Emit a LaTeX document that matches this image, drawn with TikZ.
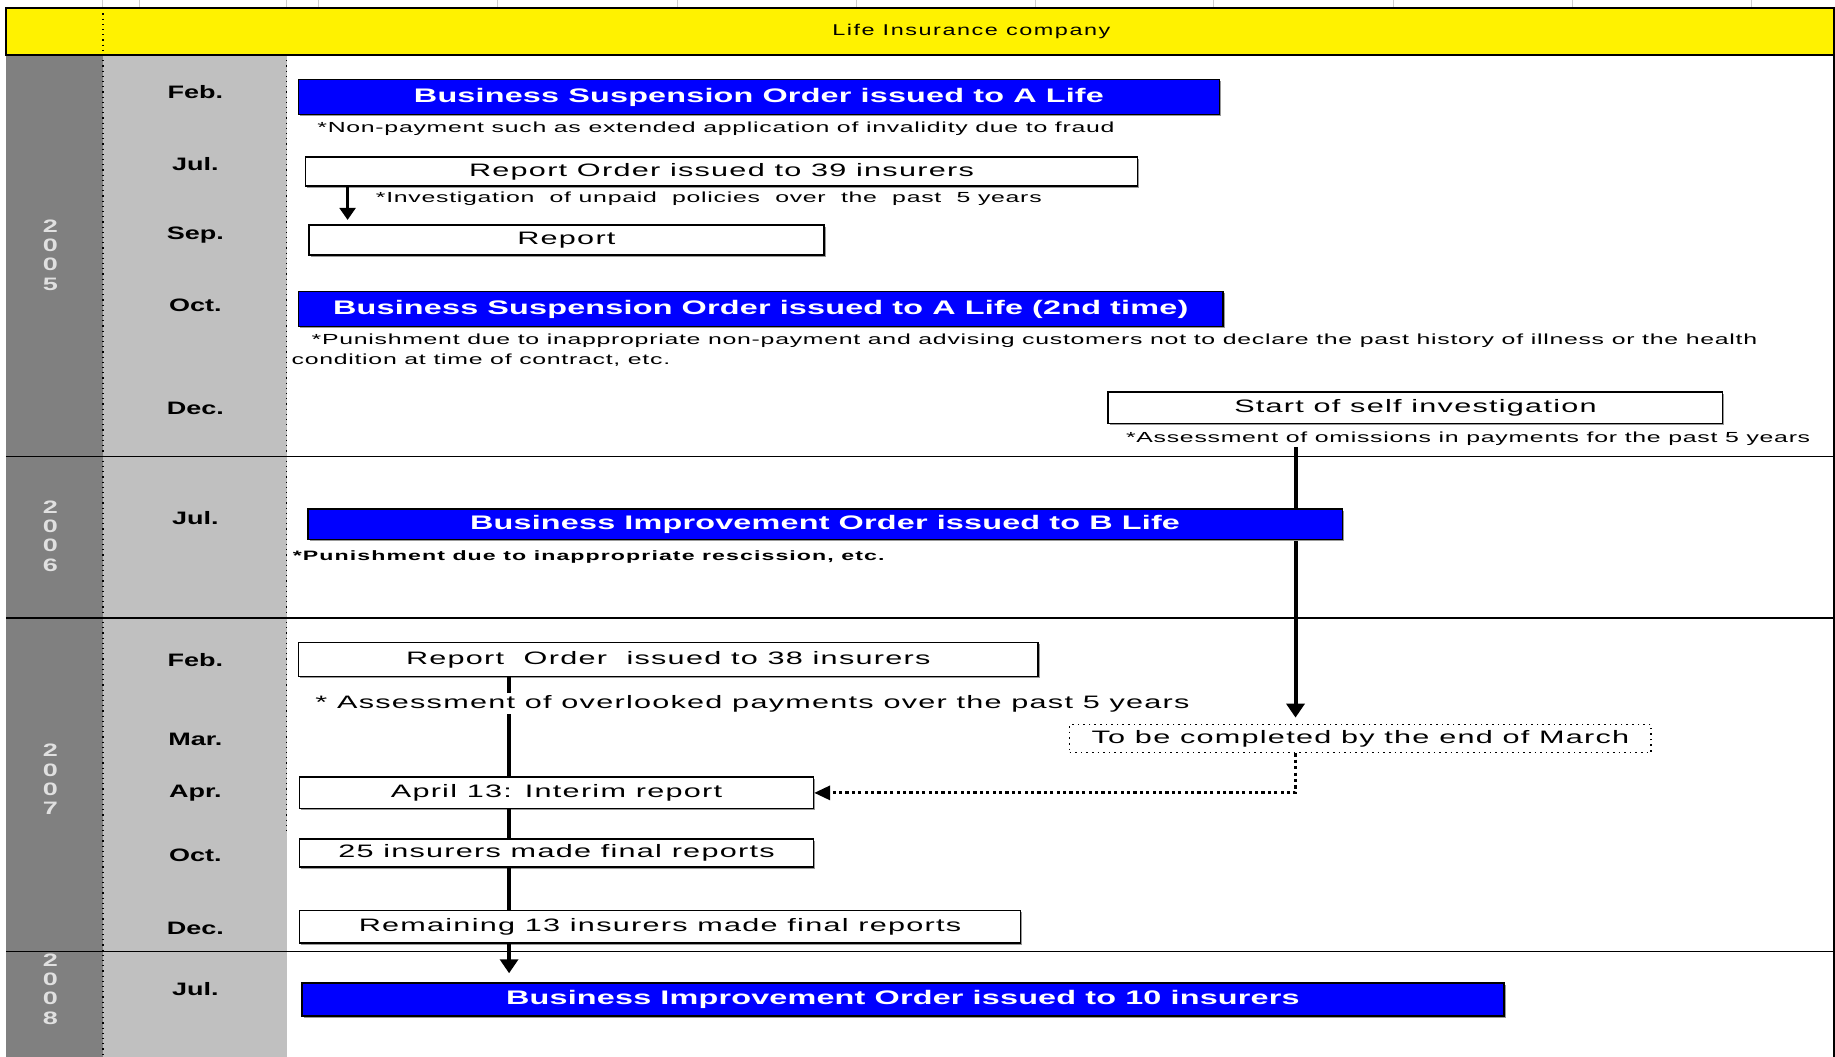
\documentclass[tikz,border=0pt]{standalone}
\usepackage{fontspec}
\setmainfont[FakeStretch=1.5]{Liberation Sans}
\newfontfamily\bluefont[FakeStretch=1.65,LetterSpace=1]{Liberation Sans}
\newfontfamily\boxfont[FakeStretch=1.7,LetterSpace=7]{Liberation Sans}
\newfontfamily\notefont[FakeStretch=1.7,LetterSpace=5]{Liberation Sans}
\newfontfamily\boldnotefont[FakeStretch=1.7,LetterSpace=8]{Liberation Sans}
\newfontfamily\headfont[FakeStretch=1.5,LetterSpace=10]{Liberation Sans}
\newfontfamily\monthfont[FakeStretch=1.5]{Liberation Sans}
\usepackage{tikz}
\usetikzlibrary{positioning,arrows.meta,shadows}
\definecolor{ordblue}{RGB}{0,0,255}
\definecolor{yeargray}{RGB}{128,128,128}
\definecolor{monthgray}{RGB}{192,192,192}
\definecolor{gridgray}{RGB}{205,205,205}
\newcommand{\px}{0.585pt}

\begin{document}
\begin{tikzpicture}[x=0.585pt, y=-0.585pt,
  boxshadow/.style={drop shadow={shadow xshift=0.9pt, shadow yshift=-0.9pt, fill=black!40, opacity=1}},
  bluebox/.style={draw=black, line width=0.8pt, fill=ordblue, text=white, inner sep=0pt, boxshadow,
    font=\bluefont\bfseries\fontsize{9.8}{11}\selectfont},
  whitebox/.style={draw=black, line width=0.8pt, fill=white, inner sep=0pt, boxshadow,
    font=\boxfont\fontsize{9}{11}\selectfont},
  dotbox/.style={draw=black, dotted, line width=0.8pt, fill=white, inner sep=0pt,
    font=\boxfont\fontsize{9}{11}\selectfont},
  note/.style={inner sep=0.5pt, font=\notefont\fontsize{7.3}{10}\selectfont},
  boldnote/.style={inner sep=0.5pt, font=\boldnotefont\bfseries\fontsize{6.8}{8}\selectfont},
  month/.style={font=\monthfont\bfseries\fontsize{9}{10}\selectfont},
  year/.style={align=center, text=black!12, font=\monthfont\bfseries\fontsize{9}{9.65}\selectfont},
  thinarrow/.style={line width=1.2pt, -{Triangle[width=8pt,length=6pt]}, shorten >=2pt},
  bigarrow/.style={line width=2pt, -{Triangle[width=9pt,length=7pt]}, shorten >=3pt},
  chainline/.style={line width=2pt},
  dotarrow/.style={line width=1.6pt, dash pattern=on 1.6pt off 1.6pt, -{Triangle[width=7pt,length=8pt]}}]
\useasboundingbox (0,0) rectangle (1568,903);

% Hintergrund und Raster
\foreach \x in {88,119,245,272,425,579,732,885,1037,1191,1344,1497}
  \draw[gridgray, line width=0.5pt] (\x,0) -- (\x,7);
\fill[yeargray] (5,47) rectangle (88,903);
\fill[monthgray] (88,47) rectangle (245,903);
\draw[fill=yellow, line width=0.8pt] (5,7) rectangle (1567,47);
\draw[line width=0.8pt] (1567,47) -- (1567,903);
\foreach \y in {390,528,813}
  \draw[line width=0.9pt] (5,\y) -- (1567,\y);
\draw[dotted, line width=0.6pt] (88,7) -- (88,903);
\draw[dotted, line width=0.6pt] (245,47) -- (245,712);
\node[font=\headfont\fontsize{7.8}{9}\selectfont] (head) at (830,27) {Life Insurance company};

% Jahre
\node[year] (y2005) at (43,218) {2\\0\\0\\5};
\node[year] (y2006) at (43,458) {2\\0\\0\\6};
\node[year] (y2007) at (43,666) {2\\0\\0\\7};
\node[year] (y2008) at (43,845) {2\\0\\0\\8};

% Monate
\foreach \m/\y in {Feb./79, Jul./140, Sep./201, Oct./261, Dec./349, Jul./443,
  Feb./564, Mar./632, Apr./678, Oct./731, Dec./793, Jul./845}
  \node[month] (m\y) at (167,\y) {\m};

% 2005
\node[bluebox, minimum width=787*\px, minimum height=30*\px] (susp1) at (648.5,83) {Business Suspension Order issued to A Life};
\node[note, anchor=west] (n1) at (270,110) {*Non-payment such as extended application of invalidity due to fraud};
\node[whitebox, minimum width=711*\px, minimum height=25*\px] (rep39) at (616.5,146.5) {Report Order issued to 39 insurers};
\node[note, anchor=west] (n2) at (320,170) {*Investigation\ \ of unpaid\ \ policies\ \ over\ \ the\ \ past\ \ 5 years};
\node[whitebox, minimum width=440*\px, minimum height=26*\px] (report) at (484,205) {Report};
\coordinate (ax) at (297,0);
\draw[thinarrow] (rep39.south -| ax) -- (report.north -| ax);
\node[bluebox, minimum width=790*\px, minimum height=30*\px] (susp2) at (650,264) {Business Suspension Order issued to A Life (2nd time)};
\node[note, anchor=north west, align=left] (n3) at (248,284) {\hspace*{10pt}*Punishment due to inappropriate non-payment and advising customers not to declare the past history of illness or the health\\condition at time of contract, etc.};
\node[whitebox, minimum width=525*\px, minimum height=27*\px] (selfinv) at (1209.5,348.5) {Start of self investigation};
\node[note] (n4) at (1254.5,375) {*Assessment of omissions in payments for the past 5 years};

% Selbstpruefung bis Maerz
\node[dotbox, minimum width=497*\px, minimum height=24*\px] (tobe) at (1162.5,631) {To be completed by the end of March};
\coordinate (sx) at (1107,0);
\draw[bigarrow] (n4.south -| sx) -- (tobe.north -| sx);

% 2006
\node[bluebox, minimum width=884*\px, minimum height=26*\px] (impB) at (705,448) {Business Improvement Order issued to B Life};
\node[boldnote, anchor=west] (n5) at (249,476) {*Punishment due to inappropriate rescission, etc.};

% 2007
\node[whitebox, minimum width=632*\px, minimum height=29*\px] (rep38) at (571,563.5) {Report\ \ Order\ \ issued to 38 insurers};
\node[whitebox, minimum width=439*\px, minimum height=27*\px] (interim) at (475.5,677.5) {April 13: Interim report};
\node[whitebox, minimum width=439*\px, minimum height=24*\px] (final25) at (475.5,729) {25 insurers made final reports};
\node[whitebox, minimum width=616*\px, minimum height=28*\px] (remain) at (564,792) {Remaining 13 insurers made final reports};
\draw[dotarrow] (tobe.south -| sx) |- (interim.east);

% 2008
\node[bluebox, minimum width=1027*\px, minimum height=28*\px] (imp10) at (771.5,854) {Business Improvement Order issued to 10 insurers};

% Kette der Berichte
\coordinate (cx) at (435,0);
\draw[chainline] (rep38.south -| cx) -- (interim.north -| cx);
\draw[chainline] (interim.south -| cx) -- (final25.north -| cx);
\draw[chainline] (final25.south -| cx) -- (remain.north -| cx);
\draw[chainline, -{Triangle[width=9pt,length=7pt]}, shorten >=4.5pt] (remain.south -| cx) -- (imp10.north -| cx);
\node[fill=white, inner sep=1pt, font=\boxfont\fontsize{9}{11}\selectfont] (n6) at (643,601) {* Assessment of overlooked payments over the past 5 years};
\end{tikzpicture}
\end{document}
